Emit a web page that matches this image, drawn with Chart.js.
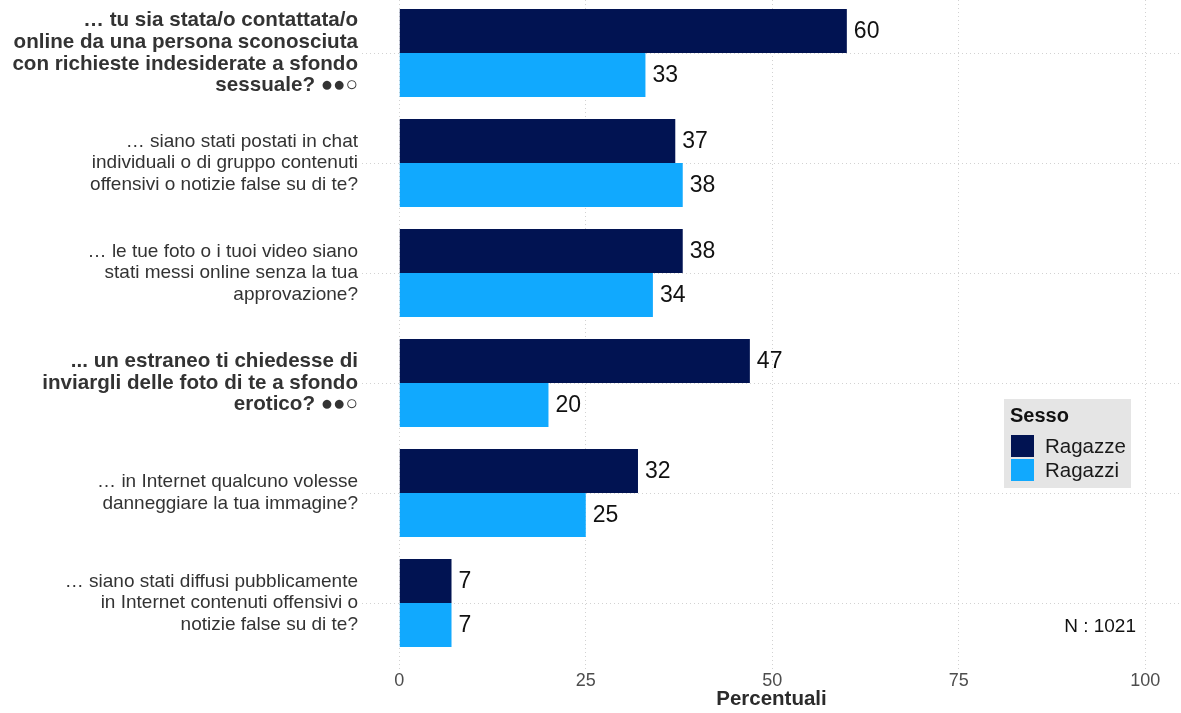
<!DOCTYPE html>
<html lang="it">
<head>
<meta charset="utf-8">
<title>Esperienze online - Ragazze e Ragazzi</title>
<script src="https://cdn.jsdelivr.net/npm/chart.js@4.4.1/dist/chart.umd.min.js"></script>
<style>
  html, body { margin: 0; padding: 0; background: #fff; }
  #wrap { width: 1181px; height: 713px; position: relative; }
</style>
</head>
<body>
<div id="wrap"><canvas id="chart"></canvas></div>
<script>
// -------------------------
// DATA
// -------------------------
const categories = [
  ["… tu sia stata/o contattata/o", "online da una persona sconosciuta", "con richieste indesiderate a sfondo", "sessuale? ●●○"],
  ["… siano stati postati in chat", "individuali o di gruppo contenuti", "offensivi o notizie false su di te?"],
  ["… le tue foto o i tuoi video siano", "stati messi online senza la tua", "approvazione?"],
  ["... un estraneo ti chiedesse di", "inviargli delle foto di te a sfondo", "erotico? ●●○"],
  ["… in Internet qualcuno volesse", "danneggiare la tua immagine?"],
  ["… siano stati diffusi pubblicamente", "in Internet contenuti offensivi o", "notizie false su di te?"]
];
const boldRows = [0, 3];
const ragazze = [60, 37, 38, 47, 32, 7];
const ragazzi = [33, 38, 34, 20, 25, 7];
const seriesNames = ["Ragazze", "Ragazzi"];
const seriesColors = ["#011352", "#11a9fe"];
const xTicks = [0, 25, 50, 75, 100];
const xTitle = "Percentuali";
const legendTitle = "Sesso";
const sampleNote = "N : 1021";

const FONT = "'Liberation Sans', Arial, Helvetica, sans-serif";

// value labels at the end of each bar
const valueLabels = {
  id: "valueLabels",
  afterDatasetsDraw(chart) {
    const ctx = chart.ctx;
    ctx.save();
    ctx.font = "23px " + FONT;
    ctx.fillStyle = "#111";
    ctx.textAlign = "left";
    ctx.textBaseline = "middle";
    chart.data.datasets.forEach((ds, di) => {
      chart.getDatasetMeta(di).data.forEach((bar, i) => {
        ctx.fillText(String(ds.data[i].x), bar.x + 7, bar.y + 1);
      });
    });
    ctx.restore();
  }
};

// legend box inside the panel + sample size note
const boxLegend = {
  id: "boxLegend",
  afterDraw(chart) {
    const ctx = chart.ctx;
    ctx.save();
    ctx.fillStyle = "#e5e5e5";
    ctx.fillRect(1004, 399, 127, 89);
    ctx.fillStyle = "#111";
    ctx.font = "bold 20px " + FONT;
    ctx.textBaseline = "middle";
    ctx.textAlign = "left";
    ctx.fillText(legendTitle, 1010, 416);
    chart.data.datasets.forEach((ds, i) => {
      const y = 435 + i * 24;
      ctx.fillStyle = ds.backgroundColor;
      ctx.fillRect(1011, y, 23, 22);
      ctx.fillStyle = "#1a1a1a";
      ctx.font = "20.5px " + FONT;
      ctx.fillText(ds.label, 1045, y + 12);
    });
    ctx.font = "19px " + FONT;
    ctx.textAlign = "right";
    ctx.fillStyle = "#111";
    ctx.fillText(sampleNote, 1136, 627);
    ctx.restore();
  }
};

const gridDots = { color: "#d2d2d2", lineWidth: 1, drawTicks: false, offset: false };

new Chart(document.getElementById("chart"), {
  type: "bar",
  data: {
    datasets: [
      {
        label: seriesNames[0],
        data: ragazze.map((v, i) => ({ x: v, y: i })),
        backgroundColor: seriesColors[0],
      },
      {
        label: seriesNames[1],
        data: ragazzi.map((v, i) => ({ x: v, y: i })),
        backgroundColor: seriesColors[1],
      },
    ],
  },
  options: {
    indexAxis: "y",
    responsive: true,
    maintainAspectRatio: false,
    animation: false,
    layout: { padding: 0 },
    categoryPercentage: 0.8,
    barPercentage: 1,
    plugins: {
      legend: { display: false },
      tooltip: { enabled: false },
    },
    scales: {
      x: {
        type: "linear",
        position: "bottom",
        min: -5,
        max: 104.8,
        afterBuildTicks: (axis) => { axis.ticks = xTicks.map((v) => ({ value: v })); },
        afterFit: (axis) => {
          axis.height = 44;
          axis.paddingLeft = 0;
          axis.paddingRight = 0;
        },
        grid: gridDots,
        border: { display: false, dash: [1, 3] },
        ticks: {
          padding: 1,
          color: "#4d4d4d",
          font: { family: FONT, size: 18 },
        },
        title: {
          display: true,
          text: xTitle,
          color: "#2b2b2b",
          font: { family: FONT, size: 20.5, weight: "bold" },
          padding: { top: 0, bottom: 1 },
        },
      },
      y: {
        type: "linear",
        reverse: true,
        offset: false,
        min: -0.482,
        max: 5.6,
        afterBuildTicks: (axis) => { axis.ticks = categories.map((c, i) => ({ value: i })); },
        afterFit: (axis) => {
          axis.width = 362;
          axis.paddingTop = 0;
          axis.paddingBottom = 0;
        },
        grid: gridDots,
        border: { display: false, dash: [1, 3] },
        ticks: {
          padding: 4,
          color: "#333",
          callback: (value) => categories[value],
          font: (ctx) => {
            const bold = boldRows.includes(ctx.index);
            return {
              family: FONT,
              size: bold ? 20.6 : 19,
              weight: bold ? "bold" : "normal",
              lineHeight: "21.7px",
            };
          },
        },
      },
    },
  },
  plugins: [valueLabels, boxLegend],
});
</script>
</body>
</html>
